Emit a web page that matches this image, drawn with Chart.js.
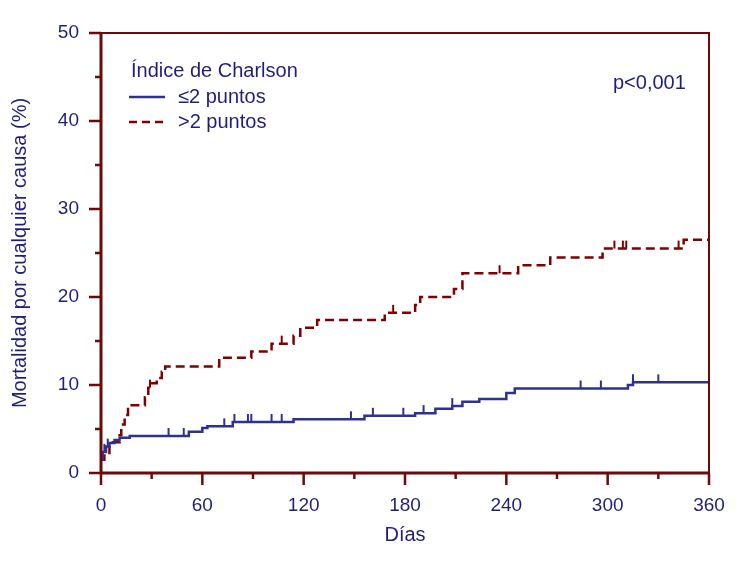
<!DOCTYPE html>
<html>
<head>
<meta charset="utf-8">
<script src="https://cdn.jsdelivr.net/npm/chart.js@4/dist/chart.umd.min.js"></script>
<style>
  html, body { margin: 0; padding: 0; background: #fff; }
  #wrap { width: 750px; height: 562px; }
</style>
</head>
<body>
<div id="wrap"><canvas id="kmChart"></canvas></div>
<script>
// Kaplan-Meier style curves
const lowDays = [0, 1, 3, 5, 8, 11, 17, 52, 60, 63, 78, 114, 156, 186, 198, 208, 214, 224, 240, 245, 312, 315, 360];
const lowMort = [1.5, 2.4, 3.0, 3.4, 3.75, 4.0, 4.2, 4.7, 5.1, 5.3, 5.8, 6.1, 6.5, 6.8, 7.3, 7.6, 8.1, 8.4, 9.1, 9.6, 10.0, 10.3, 10.3];
const highDays = [0, 2, 5, 7, 11, 12, 14, 16, 26, 28, 30, 33, 36, 38, 70, 89, 101, 114, 118, 128, 168, 186, 189, 209, 214, 247, 266, 297, 345, 360];
const highMort = [1.5, 2.0, 3.1, 3.5, 4.3, 5.5, 6.6, 7.7, 8.6, 9.7, 10.2, 10.8, 11.5, 12.1, 13.1, 13.8, 14.7, 15.6, 16.5, 17.4, 18.2, 19.1, 20.0, 20.9, 22.7, 23.6, 24.5, 25.5, 26.5, 26.5];
const lowCensored = [2, 4, 40, 49, 73, 79, 87, 89, 101, 107, 148, 161, 179, 191, 208, 284, 296, 315, 330];
const highCensored = [29, 107, 173, 236, 304, 309, 311, 342];

const xTicks = [0, 60, 120, 180, 240, 300, 360];
const yTicks = [0, 10, 20, 30, 40, 50];

const blue = '#2e3192';
const red = '#800000';
const axisColor = '#6b0a0a';
const textColor = '#1f1f7a';
const font = '"Liberation Sans", Arial, sans-serif';

function toPoints(days, vals) {
    return days.map((d, i) => ({ x: d, y: vals[i] }));
}

function valueAt(days, vals, t) {
    let v = vals[0];
    for (let i = 0; i < days.length; i++) {
        if (days[i] <= t) v = vals[i];
    }
    return v;
}

// frame, tick marks, censor marks and the in-plot legend
const decorations = {
    id: 'decorations',
    afterDatasetsDraw(chart) {
        const { ctx, chartArea: a, scales: { x, y } } = chart;
        ctx.save();

        // censor ticks
        ctx.lineWidth = 2;
        const censor = (days, vals, times, color) => {
            ctx.strokeStyle = color;
            times.forEach(t => {
                const px = x.getPixelForValue(t);
                const py = y.getPixelForValue(valueAt(days, vals, t));
                ctx.beginPath();
                ctx.moveTo(px, py);
                ctx.lineTo(px, py - 8);
                ctx.stroke();
            });
        };
        censor(lowDays, lowMort, lowCensored, blue);
        censor(highDays, highMort, highCensored, red);

        // frame
        ctx.strokeStyle = axisColor;
        ctx.lineWidth = 2;
        ctx.strokeRect(a.left, a.top, a.right - a.left, a.bottom - a.top);
        ctx.lineWidth = 3;
        ctx.beginPath();
        ctx.moveTo(a.left, a.top);
        ctx.lineTo(a.left, a.bottom);
        ctx.lineTo(a.right, a.bottom);
        ctx.stroke();

        // tick marks
        ctx.lineWidth = 2.5;
        x.ticks.forEach(tk => {
            const px = x.getPixelForValue(tk.value);
            const len = tk.value % 60 === 0 ? 12 : 6;
            ctx.beginPath();
            ctx.moveTo(px, a.bottom);
            ctx.lineTo(px, a.bottom + len);
            ctx.stroke();
        });
        y.ticks.forEach(tk => {
            const py = y.getPixelForValue(tk.value);
            const len = tk.value % 10 === 0 ? 12 : 6;
            ctx.beginPath();
            ctx.moveTo(a.left, py);
            ctx.lineTo(a.left - len, py);
            ctx.stroke();
        });

        // legend
        ctx.fillStyle = textColor;
        ctx.font = '20px ' + font;
        ctx.textBaseline = 'middle';
        ctx.textAlign = 'left';
        ctx.fillText('Índice de Charlson', a.left + 30, a.top + 38);
        ctx.fillText('≤2 puntos', a.left + 77, a.top + 64);
        ctx.fillText('>2 puntos', a.left + 77, a.top + 89);
        ctx.fillText('p<0,001', a.left + 512, a.top + 50);

        ctx.lineWidth = 2.5;
        ctx.strokeStyle = blue;
        ctx.beginPath();
        ctx.moveTo(a.left + 28, a.top + 64);
        ctx.lineTo(a.left + 64, a.top + 64);
        ctx.stroke();
        ctx.strokeStyle = red;
        ctx.setLineDash([8, 5]);
        ctx.beginPath();
        ctx.moveTo(a.left + 28, a.top + 89);
        ctx.lineTo(a.left + 64, a.top + 89);
        ctx.stroke();
        ctx.restore();
    }
};

new Chart(document.getElementById('kmChart'), {
    type: 'line',
    data: {
        datasets: [
            {
                label: '≤2 puntos',
                data: toPoints(lowDays, lowMort),
                borderColor: blue,
                borderWidth: 2.5,
                stepped: true,
                pointRadius: 0,
                fill: false
            },
            {
                label: '>2 puntos',
                data: toPoints(highDays, highMort),
                borderColor: red,
                borderWidth: 2.5,
                borderDash: [9, 5],
                stepped: true,
                pointRadius: 0,
                fill: false
            }
        ]
    },
    options: {
        responsive: true,
        maintainAspectRatio: false,
        animation: false,
        layout: { padding: { top: 33, right: 41, left: 0, bottom: 0 } },
        plugins: {
            legend: { display: false },
            tooltip: { enabled: false }
        },
        scales: {
            x: {
                type: 'linear',
                min: 0,
                max: 360,
                afterFit: s => { s.height = 89; },
                grid: { display: false },
                border: { display: false },
                ticks: {
                    stepSize: 30,
                    autoSkip: false,
                    maxRotation: 0,
                    padding: 13,
                    color: textColor,
                    font: { family: font, size: 19 },
                    callback: v => xTicks.includes(v) ? v : ''
                },
                title: {
                    display: true,
                    text: 'Días',
                    color: textColor,
                    font: { family: font, size: 20 },
                    padding: { top: 4, bottom: 15 }
                }
            },
            y: {
                min: 0,
                max: 50,
                afterFit: s => { s.width = 101; },
                grid: { display: false },
                border: { display: false },
                ticks: {
                    stepSize: 5,
                    autoSkip: false,
                    padding: 14,
                    color: textColor,
                    font: { family: font, size: 19 },
                    callback: v => yTicks.includes(v) ? v : ''
                },
                title: {
                    display: true,
                    text: 'Mortalidad por cualquier causa (%)',
                    color: textColor,
                    font: { family: font, size: 20 },
                    padding: { top: 8, bottom: 0 }
                }
            }
        }
    },
    plugins: [decorations]
});
</script>
</body>
</html>
